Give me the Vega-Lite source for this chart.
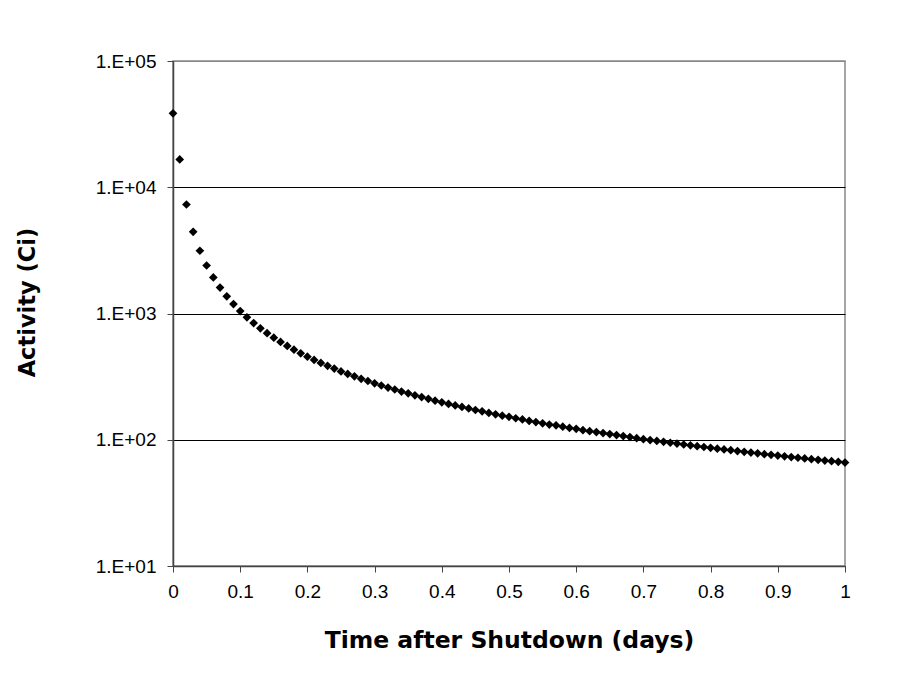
{
  "$schema": "https://vega.github.io/schema/vega-lite/v6.json",
  "autosize": {"type": "none"},
  "width": 672,
  "height": 505,
  "padding": {"left": 173, "top": 61, "right": 61, "bottom": 111},
  "background": "white",
  "config": {
    "view": {"stroke": "#888888", "strokeWidth": 1.5},
    "axis": {
      "labelFont": "Liberation Sans",
      "labelFontSize": 19,
      "labelColor": "#000000",
      "titleColor": "#000000",
      "domainColor": "#444444",
      "domainWidth": 1.5,
      "tickColor": "#444444",
      "tickWidth": 1,
      "tickSize": 6
    }
  },
  "data": {
    "values": [
      {"t": 0.00, "activity": 38500},
      {"t": 0.01, "activity": 16600},
      {"t": 0.02, "activity": 7300},
      {"t": 0.03, "activity": 4440},
      {"t": 0.04, "activity": 3140},
      {"t": 0.05, "activity": 2400},
      {"t": 0.06, "activity": 1930},
      {"t": 0.07, "activity": 1605},
      {"t": 0.08, "activity": 1367},
      {"t": 0.09, "activity": 1187},
      {"t": 0.10, "activity": 1046},
      {"t": 0.11, "activity": 933},
      {"t": 0.12, "activity": 840},
      {"t": 0.13, "activity": 763},
      {"t": 0.14, "activity": 699},
      {"t": 0.15, "activity": 643},
      {"t": 0.16, "activity": 595},
      {"t": 0.17, "activity": 553},
      {"t": 0.18, "activity": 517},
      {"t": 0.19, "activity": 484},
      {"t": 0.20, "activity": 455},
      {"t": 0.21, "activity": 429},
      {"t": 0.22, "activity": 406},
      {"t": 0.23, "activity": 385},
      {"t": 0.24, "activity": 366},
      {"t": 0.25, "activity": 348},
      {"t": 0.26, "activity": 332},
      {"t": 0.27, "activity": 318},
      {"t": 0.28, "activity": 304},
      {"t": 0.29, "activity": 292},
      {"t": 0.30, "activity": 280},
      {"t": 0.31, "activity": 269},
      {"t": 0.32, "activity": 259},
      {"t": 0.33, "activity": 250},
      {"t": 0.34, "activity": 241},
      {"t": 0.35, "activity": 233},
      {"t": 0.36, "activity": 225},
      {"t": 0.37, "activity": 218},
      {"t": 0.38, "activity": 211},
      {"t": 0.39, "activity": 204},
      {"t": 0.40, "activity": 198},
      {"t": 0.41, "activity": 192},
      {"t": 0.42, "activity": 187},
      {"t": 0.43, "activity": 182},
      {"t": 0.44, "activity": 177},
      {"t": 0.45, "activity": 172},
      {"t": 0.46, "activity": 168},
      {"t": 0.47, "activity": 163},
      {"t": 0.48, "activity": 159},
      {"t": 0.49, "activity": 155},
      {"t": 0.50, "activity": 152},
      {"t": 0.51, "activity": 148},
      {"t": 0.52, "activity": 145},
      {"t": 0.53, "activity": 141},
      {"t": 0.54, "activity": 138},
      {"t": 0.55, "activity": 135},
      {"t": 0.56, "activity": 132},
      {"t": 0.57, "activity": 130},
      {"t": 0.58, "activity": 127},
      {"t": 0.59, "activity": 124},
      {"t": 0.60, "activity": 122},
      {"t": 0.61, "activity": 119},
      {"t": 0.62, "activity": 117},
      {"t": 0.63, "activity": 115},
      {"t": 0.64, "activity": 113},
      {"t": 0.65, "activity": 111},
      {"t": 0.66, "activity": 109},
      {"t": 0.67, "activity": 107},
      {"t": 0.68, "activity": 105},
      {"t": 0.69, "activity": 103},
      {"t": 0.70, "activity": 101},
      {"t": 0.71, "activity": 99.5},
      {"t": 0.72, "activity": 97.9},
      {"t": 0.73, "activity": 96.3},
      {"t": 0.74, "activity": 94.7},
      {"t": 0.75, "activity": 93.2},
      {"t": 0.76, "activity": 91.7},
      {"t": 0.77, "activity": 90.3},
      {"t": 0.78, "activity": 88.9},
      {"t": 0.79, "activity": 87.6},
      {"t": 0.80, "activity": 86.3},
      {"t": 0.81, "activity": 85.0},
      {"t": 0.82, "activity": 83.8},
      {"t": 0.83, "activity": 82.6},
      {"t": 0.84, "activity": 81.4},
      {"t": 0.85, "activity": 80.2},
      {"t": 0.86, "activity": 79.1},
      {"t": 0.87, "activity": 78.0},
      {"t": 0.88, "activity": 76.9},
      {"t": 0.89, "activity": 75.9},
      {"t": 0.90, "activity": 74.9},
      {"t": 0.91, "activity": 73.9},
      {"t": 0.92, "activity": 72.9},
      {"t": 0.93, "activity": 72.0},
      {"t": 0.94, "activity": 71.1},
      {"t": 0.95, "activity": 70.2},
      {"t": 0.96, "activity": 69.3},
      {"t": 0.97, "activity": 68.4},
      {"t": 0.98, "activity": 67.6},
      {"t": 0.99, "activity": 66.8},
      {"t": 1.00, "activity": 66.0}
    ]
  },
  "mark": {"type": "point", "shape": "diamond", "filled": true, "color": "#000000", "size": 76, "opacity": 1},
  "encoding": {
    "x": {
      "field": "t",
      "type": "quantitative",
      "scale": {"domain": [0, 1], "nice": false, "zero": false},
      "axis": {
        "values": [0, 0.1, 0.2, 0.3, 0.4, 0.5, 0.6, 0.7, 0.8, 0.9, 1],
        "format": "~g",
        "grid": false,
        "labelFlush": false,
        "labelPadding": 10,
        "title": "Time after Shutdown (days)",
        "titleFont": "DejaVu Sans",
        "titleFontWeight": "bold",
        "titleFontSize": 23.5,
        "titleBaseline": "middle",
        "titleY": 74,
        "titleX": 336
      }
    },
    "y": {
      "field": "activity",
      "type": "quantitative",
      "scale": {"type": "log", "domain": [10, 100000], "nice": false},
      "axis": {
        "values": [10, 100, 1000, 10000, 100000],
        "labelExpr": "replace(format(datum.value, '.0e'), 'e+', '.E+0')",
        "labelFlush": false,
        "grid": true,
        "gridColor": {"condition": {"test": "datum.value >= 100000", "value": "#888888"}, "value": "#000000"},
        "gridWidth": 1,
        "labelPadding": 11,
        "title": "Activity (Ci)",
        "titleFont": "DejaVu Sans",
        "titleFontWeight": "bold",
        "titleFontSize": 22.5,
        "titleAngle": -90,
        "titleBaseline": "middle",
        "titleX": -146,
        "titleY": 241
      }
    }
  }
}
